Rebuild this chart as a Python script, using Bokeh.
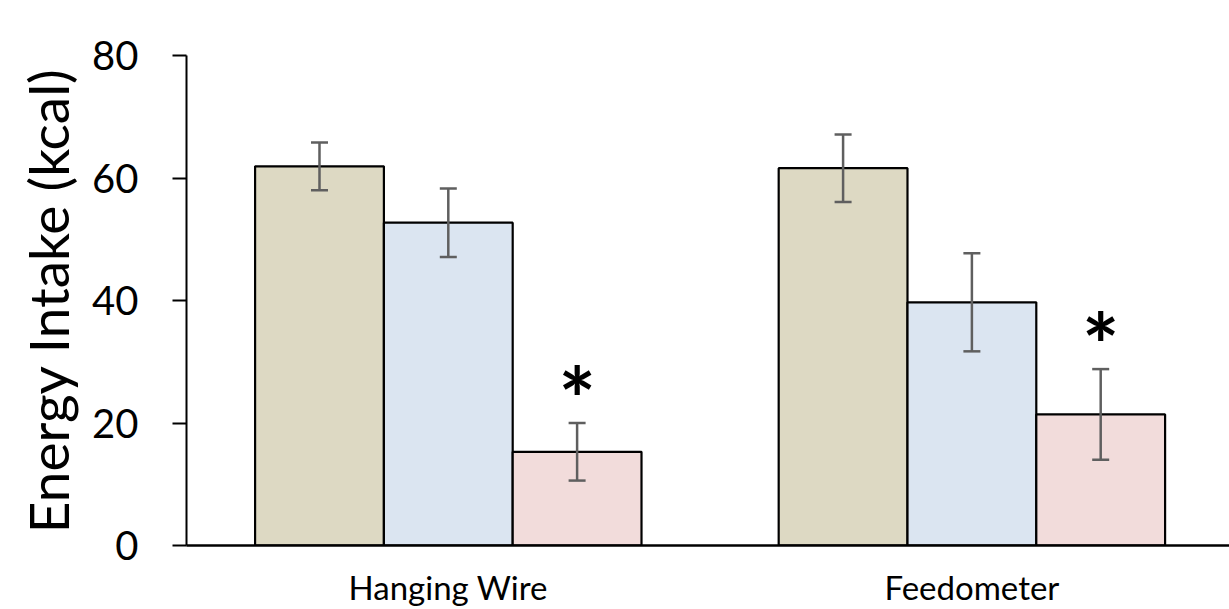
from bokeh.plotting import figure
from bokeh.models import ColumnDataSource, Range1d, FixedTicker, Whisker, TeeHead
from bokeh.core.properties import value
from bokeh.embed import file_html
from bokeh.resources import INLINE

# Mean energy intake per test condition, with error (SEM)
groups = ["Hanging Wire", "Feedometer"]
intake_a = [61.9, 61.6]
intake_b = [52.7, 39.7]
intake_c = [15.3, 21.4]
err_a = [3.9, 5.5]
err_b = [5.6, 8.0]
err_c = [4.7, 7.4]
# significance markers drawn above series c
sig_c = [True, True]

FONT = "Lato"
fills = ["#DDD9C3", "#DBE5F1", "#F2DCDB"]
err_color = "#5f5f5f"
bar_w = 0.246
offsets = [-bar_w, 0.0, bar_w]

p = figure(width=1229, height=609,
           x_range=Range1d(0.5, 2.492), y_range=Range1d(0, 80),
           output_backend="svg", toolbar_location=None,
           min_border_left=186, min_border_right=0,
           min_border_top=55, min_border_bottom=64)
p.outline_line_color = None
p.xgrid.visible = False
p.ygrid.visible = False
p.background_fill_color = "white"
p.border_fill_color = "white"

centers = [i + 1 for i in range(len(groups))]

for vals, errs, off, fill in zip([intake_a, intake_b, intake_c],
                                 [err_a, err_b, err_c], offsets, fills):
    xs = [c + off for c in centers]
    src = ColumnDataSource(dict(
        x=xs, top=vals,
        upper=[v + e for v, e in zip(vals, errs)],
        lower=[v - e for v, e in zip(vals, errs)],
    ))
    p.vbar(x="x", top="top", bottom=0, width=bar_w, source=src,
           fill_color=fill, line_color="black", line_width=2.2)
    p.add_layout(Whisker(source=src, base="x", upper="upper", lower="lower",
                         level="overlay",
                         line_color=err_color, line_width=2.5,
                         upper_head=TeeHead(size=17, line_color=err_color, line_width=2.5),
                         lower_head=TeeHead(size=17, line_color=err_color, line_width=2.5)))

# asterisks over significant bars
star_x = [c + offsets[2] for c, s in zip(centers, sig_c) if s]
star_y = [v + e for v, e, s in zip(intake_c, err_c, sig_c) if s]
p.text(x=star_x, y=star_y, text=["*"] * len(star_x),
       text_font=value(FONT), text_font_style="bold", text_font_size="88px",
       text_align="center", text_baseline="bottom", y_offset=28,
       text_color="black")

# y axis
p.yaxis.ticker = FixedTicker(ticks=[0, 20, 40, 60, 80])
p.yaxis.axis_label = "Energy Intake (kcal)"
p.yaxis.axis_label_text_font = FONT
p.yaxis.axis_label_text_font_style = "normal"
p.yaxis.axis_label_text_font_size = "55px"
p.yaxis.axis_label_text_color = "black"
p.yaxis.axis_label_standoff = 8
p.yaxis.major_label_text_font = FONT
p.yaxis.major_label_text_font_size = "40px"
p.yaxis.major_label_text_color = "black"
p.yaxis.major_label_standoff = 34
p.yaxis.axis_line_width = 2
p.yaxis.axis_line_color = "black"
p.yaxis.major_tick_line_width = 2
p.yaxis.major_tick_line_color = "black"
p.yaxis.major_tick_out = 14
p.yaxis.major_tick_in = 0
p.yaxis.minor_tick_line_color = None

# x axis
p.xaxis.ticker = FixedTicker(ticks=centers)
p.xaxis.major_label_overrides = {c: g for c, g in zip(centers, groups)}
p.xaxis.major_label_text_font = FONT
p.xaxis.major_label_text_font_size = "33px"
p.xaxis.major_label_text_color = "black"
p.xaxis.major_label_standoff = 21
p.xaxis.axis_line_width = 2.5
p.xaxis.axis_line_color = "black"
p.xaxis.major_tick_line_color = None
p.xaxis.major_tick_out = 0
p.xaxis.major_tick_in = 0
p.xaxis.minor_tick_line_color = None

open("out.html", "w").write(file_html(p, INLINE))
